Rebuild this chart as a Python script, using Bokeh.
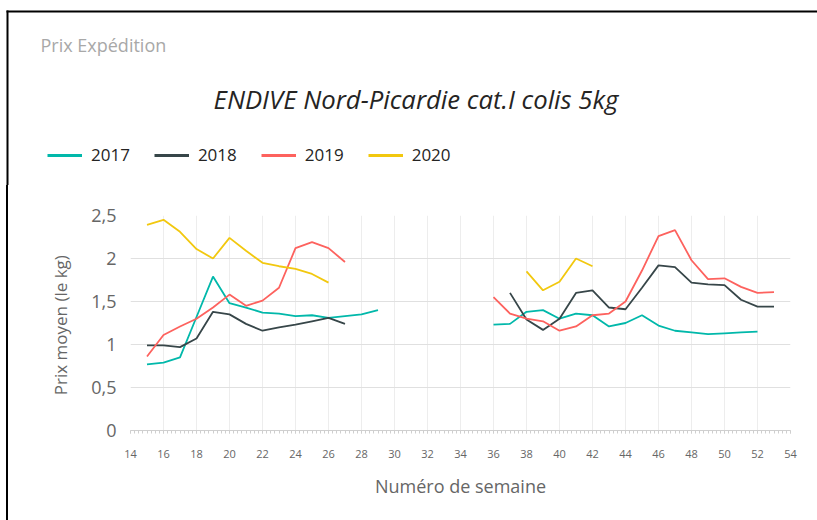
from bokeh.plotting import figure
from bokeh.layouts import column, row
from bokeh.models import (FixedTicker, Legend, LegendItem, Label, BoxAnnotation,
                          ColumnDataSource, Range1d, Spacer)
from bokeh.embed import file_html
from bokeh.resources import INLINE

nan = float("nan")

years = ["2017", "2018", "2019", "2020"]
colors = ["#01B8AA", "#374649", "#FD625E", "#F2C80F"]

# Week numbers and mean prices (EUR/kg); nan marks the summer gap
weeks_2017 = [15, 16, 17, 18, 19, 20, 21, 22, 23, 24, 25, 26, 27, 28, 29, nan,
              36, 37, 38, 39, 40, 41, 42, 43, 44, 45, 46, 47, 48, 49, 50, 51, 52]
prix_2017 = [0.77, 0.79, 0.85, 1.32, 1.79, 1.48, 1.43, 1.37, 1.36, 1.33, 1.34, 1.31, 1.33, 1.35, 1.40, nan,
             1.23, 1.24, 1.38, 1.40, 1.30, 1.36, 1.34, 1.21, 1.25, 1.34, 1.22, 1.16, 1.14, 1.12, 1.13, 1.14, 1.15]

weeks_2018 = [15, 16, 17, 18, 19, 20, 21, 22, 23, 24, 25, 26, 27, nan,
              37, 38, 39, 40, 41, 42, 43, 44, 45, 46, 47, 48, 49, 50, 51, 52, 53]
prix_2018 = [0.99, 0.99, 0.97, 1.07, 1.38, 1.35, 1.24, 1.16, 1.20, 1.23, 1.27, 1.31, 1.24, nan,
             1.60, 1.29, 1.17, 1.30, 1.60, 1.63, 1.43, 1.41, 1.66, 1.92, 1.90, 1.72, 1.70, 1.69, 1.52, 1.44, 1.44]

weeks_2019 = [15, 16, 17, 18, 19, 20, 21, 22, 23, 24, 25, 26, 27, nan,
              36, 37, 38, 39, 40, 41, 42, 43, 44, 45, 46, 47, 48, 49, 50, 51, 52, 53]
prix_2019 = [0.86, 1.11, 1.21, 1.30, 1.43, 1.58, 1.45, 1.51, 1.66, 2.12, 2.19, 2.12, 1.96, nan,
             1.55, 1.36, 1.30, 1.27, 1.16, 1.21, 1.34, 1.36, 1.50, 1.86, 2.26, 2.33, 1.98, 1.76, 1.77, 1.67, 1.60, 1.61]

weeks_2020 = [15, 16, 17, 18, 19, 20, 21, 22, 23, 24, 25, 26, nan,
              38, 39, 40, 41, 42]
prix_2020 = [2.39, 2.45, 2.31, 2.11, 2.00, 2.24, 2.09, 1.95, 1.91, 1.88, 1.82, 1.72, nan,
             1.85, 1.63, 1.73, 2.00, 1.91]

x_ticks = [14, 16, 18, 20, 22, 24, 26, 28, 30, 32, 34, 36, 38, 40, 42, 44, 46, 48, 50, 52, 54]
y_ticks = [0, 0.5, 1, 1.5, 2, 2.5]
y_labels = ["0", "0,5", "1", "1,5", "2", "2,5"]

series = [(weeks_2017, prix_2017), (weeks_2018, prix_2018), (weeks_2019, prix_2019), (weeks_2020, prix_2020)]

FONT = "Open Sans"
GREY = "#666666"
DARK = "#252423"

HEAD_H = 185
TOTAL_W = 817
TOTAL_H = 520
BODY_H = TOTAL_H - HEAD_H

# ---------------- header (card title, chart title, legend, card border) -------------
head = figure(width=TOTAL_W, height=HEAD_H, x_range=Range1d(0, TOTAL_W), y_range=Range1d(HEAD_H, 0),
              output_backend="svg", toolbar_location=None, x_axis_location=None,
              y_axis_location=None, min_border=0, outline_line_color=None)
head.grid.visible = False
head.add_layout(BoxAnnotation(left=6, right=TOTAL_W, top=10, bottom=12, fill_color="black",
                              fill_alpha=1, line_color=None))
head.add_layout(BoxAnnotation(left=6, right=8, top=10, bottom=HEAD_H, fill_color="black",
                              fill_alpha=1, line_color=None))
head.add_layout(Label(x=40, y=44.5, text="Prix Expédition", text_font=FONT,
                      text_font_size="18px", text_color="#a8a8a8",
                      text_baseline="alphabetic", text_align="left"))
head.add_layout(Label(x=415.5, y=98.5, text="ENDIVE Nord-Picardie cat.I colis 5kg",
                      text_font=FONT, text_font_size="25.7px", text_font_style="italic",
                      text_color=DARK, text_baseline="alphabetic", text_align="center"))
# legend-only renderers, kept outside the visible header area
dummies = [head.line(x=[-60, -50], y=[-60, -60], line_color=c, line_width=3) for c in colors]
legend = Legend(items=[LegendItem(label=y, renderers=[r]) for y, r in zip(years, dummies)],
                location=(47, 19), orientation="horizontal",
                glyph_width=35, glyph_height=20, label_height=20, label_standoff=9,
                spacing=24, margin=0, padding=0, border_line_color=None,
                background_fill_alpha=0, label_text_font=FONT,
                label_text_font_size="17px", label_text_color=DARK)
head.add_layout(legend)

# ---------------- left border strip ----------------
strip = Spacer(width=2, height=BODY_H, styles={"background-color": "#000000"})

# ---------------- chart ----------------
p = figure(width=TOTAL_W - 8, height=BODY_H, x_range=(14, 54), y_range=(0, 2.5),
           output_backend="svg", toolbar_location=None,
           min_border_left=122, min_border_right=27, min_border_top=30, min_border_bottom=90)
p.outline_line_color = None

for (wk, pr), col in zip(series, colors):
    src = ColumnDataSource(data=dict(x=wk, y=pr))
    p.line("x", "y", source=src, line_color=col, line_width=1.8)

minor = [14 + i * 0.25 for i in range(161)]
p.xaxis.ticker = FixedTicker(ticks=x_ticks, minor_ticks=minor)
p.xaxis.axis_line_color = "#cfcfcf"
p.xaxis.major_tick_line_color = "#cfcfcf"
p.xaxis.minor_tick_line_color = "#cfcfcf"
p.xaxis.major_tick_in = 0
p.xaxis.major_tick_out = 3
p.xaxis.minor_tick_in = 0
p.xaxis.minor_tick_out = 3
p.xaxis.major_label_standoff = 16
p.xaxis.major_label_text_font = FONT
p.xaxis.major_label_text_font_size = "11px"
p.xaxis.major_label_text_color = GREY
p.xaxis.axis_label = "Numéro de semaine"
p.xaxis.axis_label_text_font = FONT
p.xaxis.axis_label_text_font_size = "18px"
p.xaxis.axis_label_text_font_style = "normal"
p.xaxis.axis_label_text_color = GREY
p.xaxis.axis_label_standoff = 13

p.yaxis.ticker = FixedTicker(ticks=y_ticks)
p.yaxis.major_label_overrides = {t: l for t, l in zip(y_ticks, y_labels)}
p.yaxis.axis_line_color = None
p.yaxis.major_tick_line_color = None
p.yaxis.minor_tick_line_color = None
p.yaxis.major_tick_in = 0
p.yaxis.major_tick_out = 0
p.yaxis.major_label_standoff = 14
p.yaxis.major_label_text_font = FONT
p.yaxis.major_label_text_font_size = "18px"
p.yaxis.major_label_text_color = GREY
p.yaxis.axis_label = "Prix moyen  (le kg)"
p.yaxis.axis_label_text_font = FONT
p.yaxis.axis_label_text_font_size = "17px"
p.yaxis.axis_label_text_font_style = "normal"
p.yaxis.axis_label_text_color = GREY
p.yaxis.axis_label_standoff = 16

p.xgrid.grid_line_color = "#ededed"
p.ygrid.grid_line_color = "#e0e0e0"

layout = column(head, row(Spacer(width=6, height=BODY_H), strip, p, spacing=0), spacing=0)

open("out.html", "w").write(file_html(layout, INLINE))
